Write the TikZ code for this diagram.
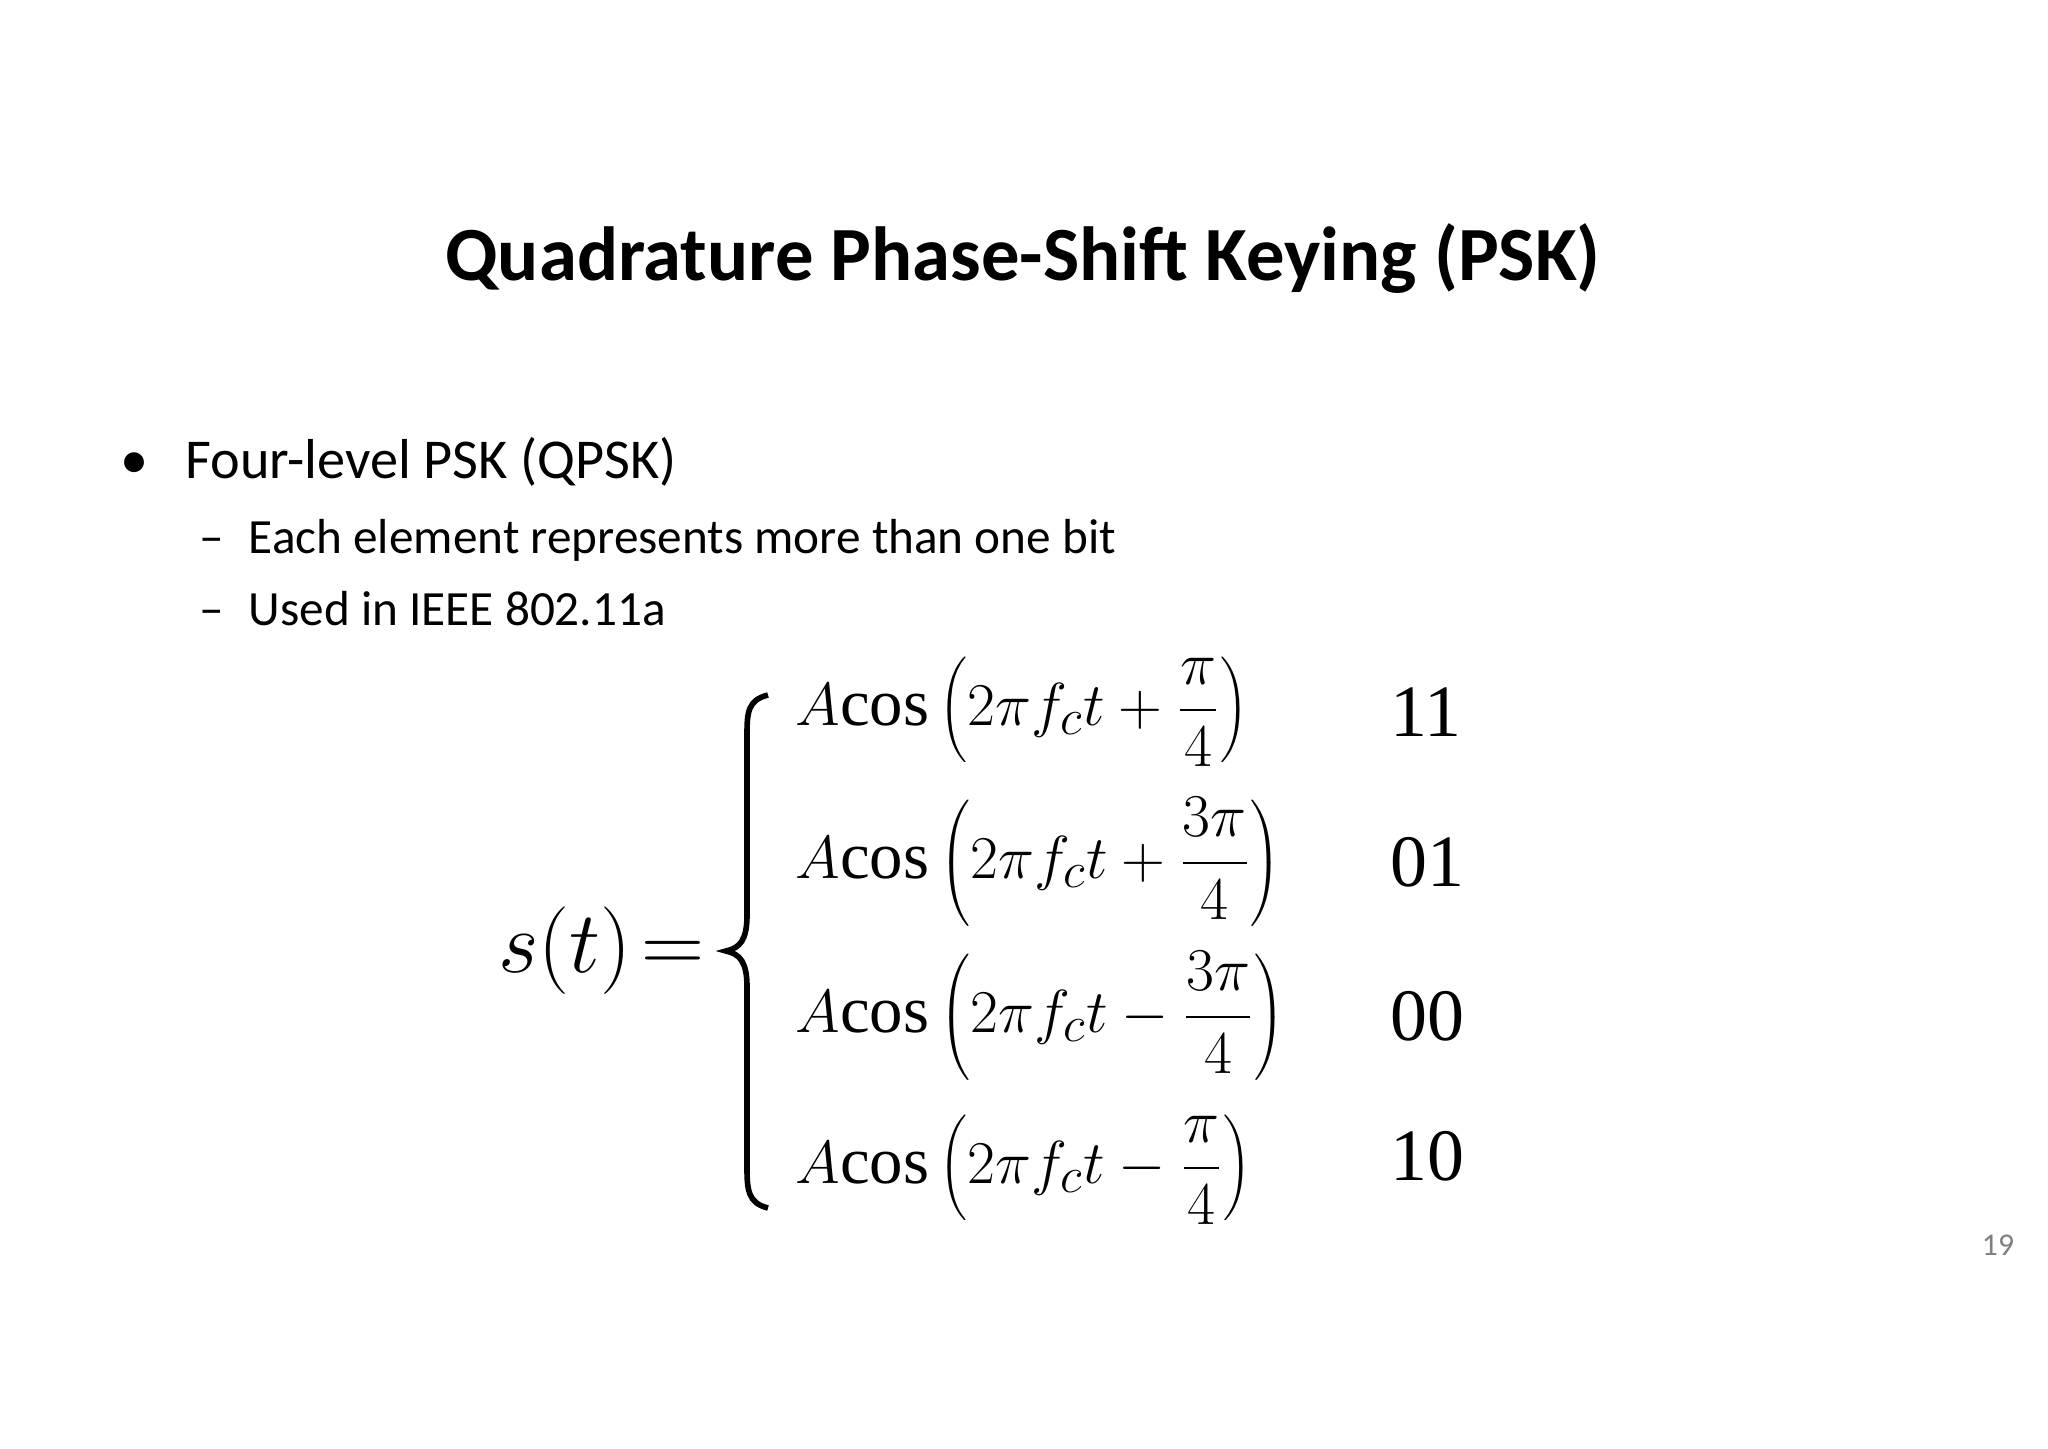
\documentclass[tikz,border=0pt]{standalone}
\usepackage{fontspec}
\setmainfont{Carlito}
\newfontfamily\tms{Liberation Serif}
\newcommand{\mycos}{\mbox{\tms cos}}
\begin{document}
\begin{tikzpicture}[x=0.01cm,y=-0.01cm,
  txt/.style={anchor=base west,inner sep=0},
  row/.style={anchor=west,inner sep=0,font=\fontsize{19}{22}\selectfont},
  lab/.style={anchor=west,inner sep=0,font=\tms\fontsize{21}{26}\selectfont}]
\useasboundingbox (0,0) rectangle (2048,1448);
\node[inner sep=0] (title) at (1023,259) {\fontsize{21.8}{26}\selectfont\bfseries Quadrature Phase-Shift Keying (PSK)};
\node[txt] (b1) at (120,478) {\fontsize{16}{20}\selectfont\textbullet\hspace{0.65em}Four-level PSK (QPSK)};
\node[txt] (b2) at (199,553) {\fontsize{14}{18}\selectfont –\hspace{0.5em}Each element represents more than one bit};
\node[txt] (b3) at (199,625) {\fontsize{14}{18}\selectfont –\hspace{0.5em}Used in IEEE 802.11a};
\node[anchor=east,inner sep=0] (st) at (705,951) {\fontsize{40}{44}\selectfont$s(t)\!=$};
\coordinate (bt) at (768,695);
\coordinate (bm) at (726,951);
\coordinate (bb) at (768,1208);
\draw[line width=1.6pt] (bt) .. controls (748,700) and (747,712) .. (747,735)
  -- (747,915) .. controls (747,940) and (740,948) .. (bm)
  .. controls (740,954) and (747,962) .. (747,987)
  -- (747,1167) .. controls (747,1190) and (748,1203) .. (bb);
\node[row] (r1) at (795,712) {$\displaystyle A\mycos\left(2\pi f_c t+\frac{\pi}{4}\right)$};
\node[row] (r2) at (795,862) {$\displaystyle A\mycos\left(2\pi f_c t+\frac{3\pi}{4}\right)$};
\node[row] (r3) at (795,1016) {$\displaystyle A\mycos\left(2\pi f_c t-\frac{3\pi}{4}\right)$};
\node[row] (r4) at (795,1170) {$\displaystyle A\mycos\left(2\pi f_c t-\frac{\pi}{4}\right)$};
\node[lab] (l1) at (1390,712) {11};
\node[lab] (l2) at (1390,862) {01};
\node[lab] (l3) at (1390,1016) {00};
\node[lab] (l4) at (1390,1156) {10};
\node[inner sep=0,text=gray] (pg) at (1998,1245) {\fontsize{9}{11}\selectfont 19};
\end{tikzpicture}
\end{document}
